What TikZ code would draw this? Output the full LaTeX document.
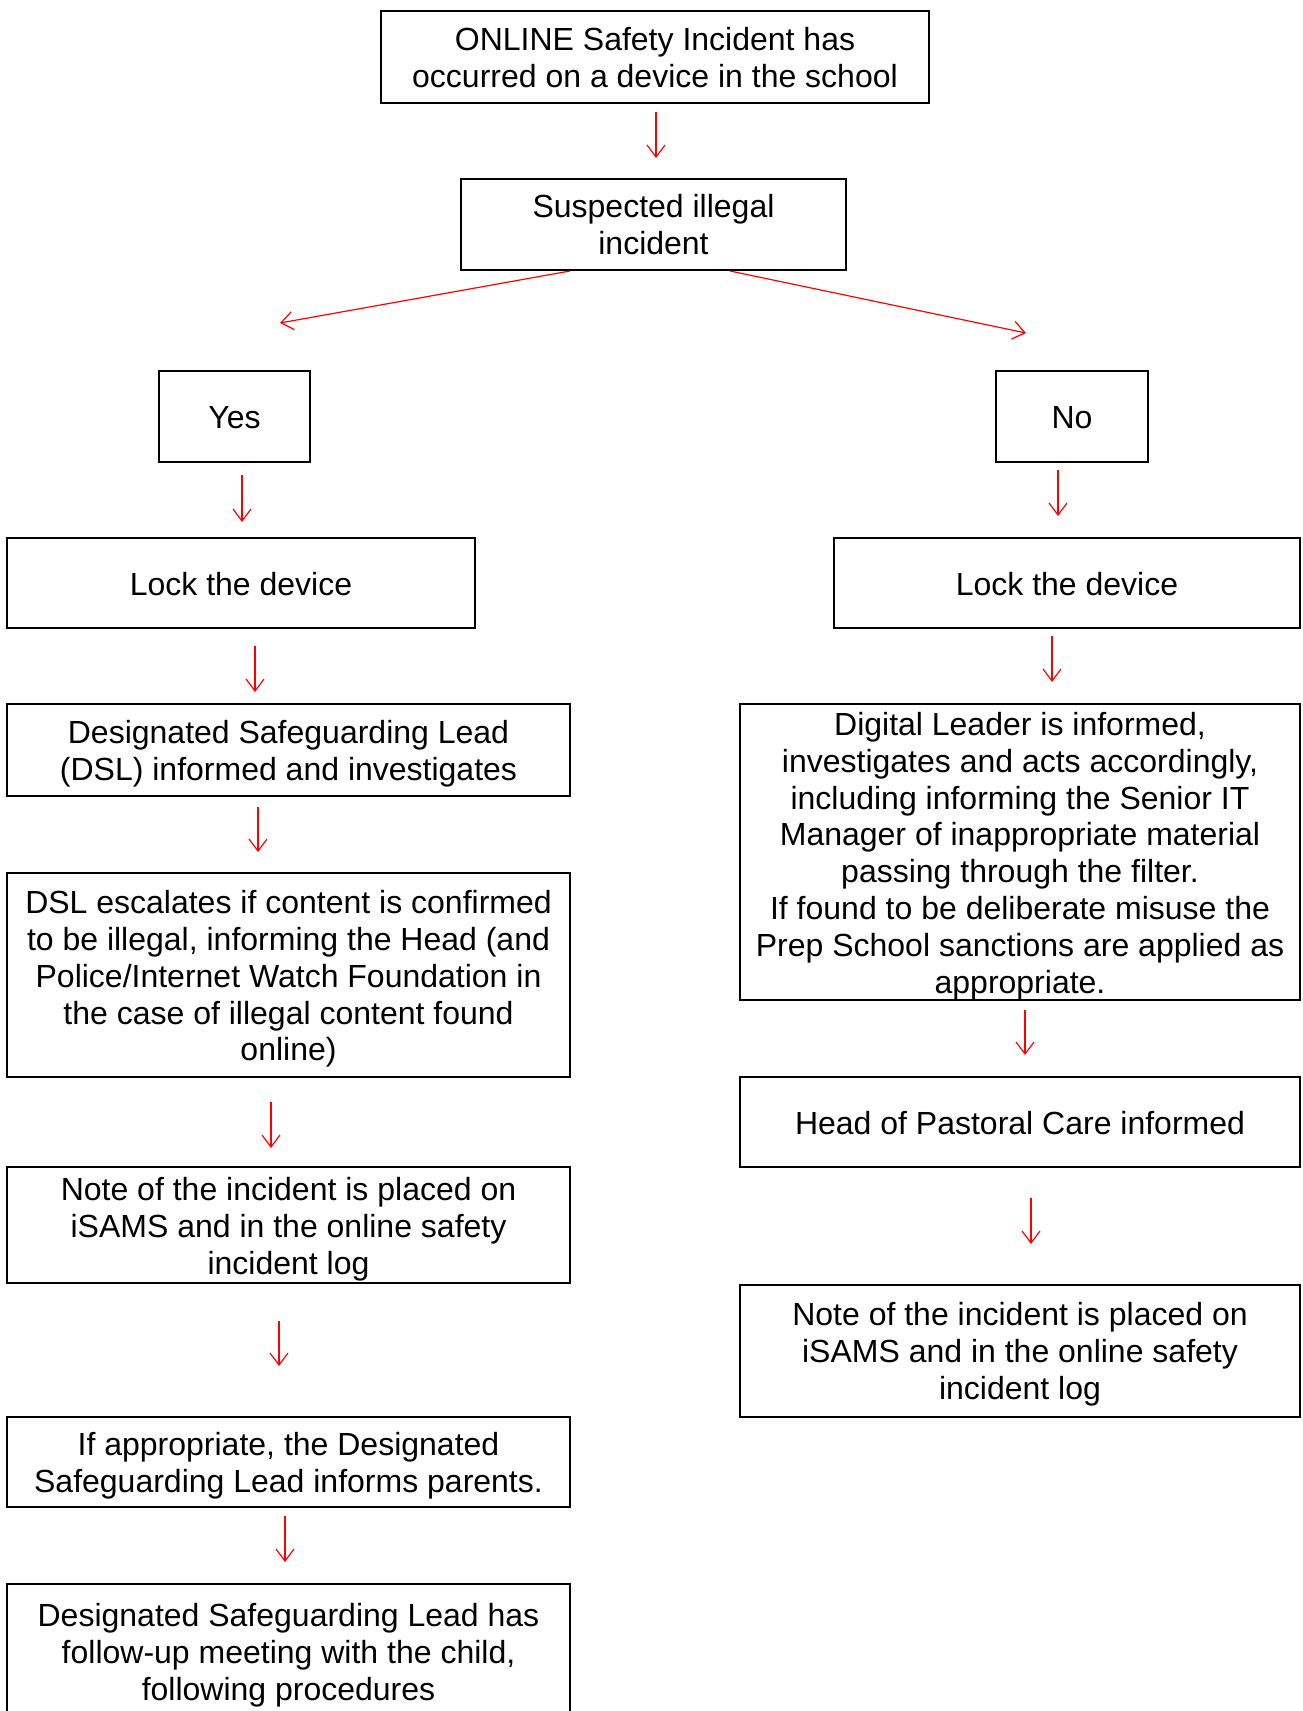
\documentclass[tikz,border=0pt]{standalone}
\usepackage{fontspec}
\setmainfont{Liberation Sans}
\usetikzlibrary{arrows.meta}
\begin{document}
\begin{tikzpicture}[x=0.5pt,y=-0.5pt,
  box/.style={draw, line width=1pt, inner sep=0pt},
  txt/.style={inner sep=0pt, align=center, font=\fontsize{16pt}{18.4pt}\selectfont},
  arr/.style={draw=red, line width=0.6pt, -{Straight Barb[length=6pt,width=9pt,line width=0.6pt]}}]
\useasboundingbox (0,0) rectangle (1302,1711);
\clip (0,0) rectangle (1302,1711);
% boxes
\node[box, minimum width=274pt, minimum height=46pt] (b1) at (655,57) {};
\node[box, minimum width=192.5pt, minimum height=45.5pt] (b2) at (653.5,224.5) {};
\node[box, minimum width=75.5pt, minimum height=45.5pt] (yes) at (234.5,416.5) {};
\node[box, minimum width=76pt, minimum height=45.5pt] (no) at (1072,416.5) {};
\node[box, minimum width=234pt, minimum height=45pt] (lockL) at (241,583) {};
\node[box, minimum width=233pt, minimum height=45pt] (lockR) at (1067,583) {};
\node[box, minimum width=281.5pt, minimum height=46pt] (dsl) at (288.5,750) {};
\node[box, minimum width=280pt, minimum height=148pt] (dig) at (1020,852) {};
\node[box, minimum width=281.5pt, minimum height=102pt] (esc) at (288.5,975) {};
\node[box, minimum width=280pt, minimum height=45pt] (hpc) at (1020,1122) {};
\node[box, minimum width=281.5pt, minimum height=58pt] (noteL) at (288.5,1225) {};
\node[box, minimum width=280pt, minimum height=66pt] (noteR) at (1020,1351) {};
\node[box, minimum width=281.5pt, minimum height=45pt] (app) at (288.5,1462) {};
\node[box, minimum width=281.5pt, minimum height=68pt] (last) at (288.5,1652) {};
% texts
\node[txt] (b1t) at ([yshift=-0.2pt]b1.center) {ONLINE Safety Incident has\\occurred on a device in the school};
\node[txt] (b2t) at ([yshift=-0.2pt]b2.center) {Suspected illegal\\incident};
\node[txt] (yest) at ([yshift=-0.5pt]yes.center) {Yes};
\node[txt] (not) at ([yshift=-0.5pt]no.center) {No};
\node[txt] (lockLt) at ([yshift=-0.5pt]lockL.center) {Lock the device};
\node[txt] (lockRt) at ([yshift=-0.5pt]lockR.center) {Lock the device};
\node[txt] (dslt) at ([yshift=-2pt]dsl.center) {Designated Safeguarding Lead\\(DSL) informed and investigates};
\node[txt] (digt) at ([yshift=-2pt]dig.center) {Digital Leader is informed,\\investigates and acts accordingly,\\including informing the Senior IT\\Manager of inappropriate material\\passing through the filter.\\If found to be deliberate misuse the\\Prep School sanctions are applied as\\appropriate.};
\node[txt] (esct) at ([yshift=-2pt]esc.center) {DSL escalates if content is confirmed\\to be illegal, informing the Head (and\\Police/Internet Watch Foundation in\\the case of illegal content found\\online)};
\node[txt] (hpct) at ([yshift=-0.5pt]hpc.center) {Head of Pastoral Care informed};
\node[txt] (noteLt) at ([yshift=-2pt]noteL.center) {Note of the incident is placed on\\iSAMS and in the online safety\\incident log};
\node[txt] (noteRt) at ([yshift=-1.5pt]noteR.center) {Note of the incident is placed on\\iSAMS and in the online safety\\incident log};
\node[txt] (appt) at ([yshift=-2pt]app.center) {If appropriate, the Designated\\Safeguarding Lead informs parents.};
\node[txt] (lastt) at ([yshift=-1.5pt]last.center) {Designated Safeguarding Lead has\\follow-up meeting with the child,\\following procedures};
% connector end points
\coordinate (a1s) at (656,112);  \coordinate (a1e) at (656,158);
\coordinate (dLs) at (570,271);  \coordinate (dLe) at (280,323);
\coordinate (dRs) at (730,271);  \coordinate (dRe) at (1026,333);
\coordinate (a2s) at (242,475);  \coordinate (a2e) at (242,522);
\coordinate (a3s) at (1058,470); \coordinate (a3e) at (1058,516);
\coordinate (a4s) at (255,646);  \coordinate (a4e) at (255,692);
\coordinate (a5s) at (1052,636); \coordinate (a5e) at (1052,682);
\coordinate (a6s) at (258,807);  \coordinate (a6e) at (258,852);
\coordinate (a7s) at (1025,1010);\coordinate (a7e) at (1025,1055);
\coordinate (a8s) at (271,1102); \coordinate (a8e) at (271,1148);
\coordinate (a9s) at (1031,1198);\coordinate (a9e) at (1031,1244);
\coordinate (a10s) at (279,1321);\coordinate (a10e) at (279,1366);
\coordinate (a11s) at (285,1516);\coordinate (a11e) at (285,1562);
% connectors
\foreach \s/\e in {a1s/a1e,dLs/dLe,dRs/dRe,a2s/a2e,a3s/a3e,a4s/a4e,a5s/a5e,a6s/a6e,a7s/a7e,a8s/a8e,a9s/a9e,a10s/a10e,a11s/a11e}
  \draw[arr] (\s) -- (\e);
\end{tikzpicture}
\end{document}
